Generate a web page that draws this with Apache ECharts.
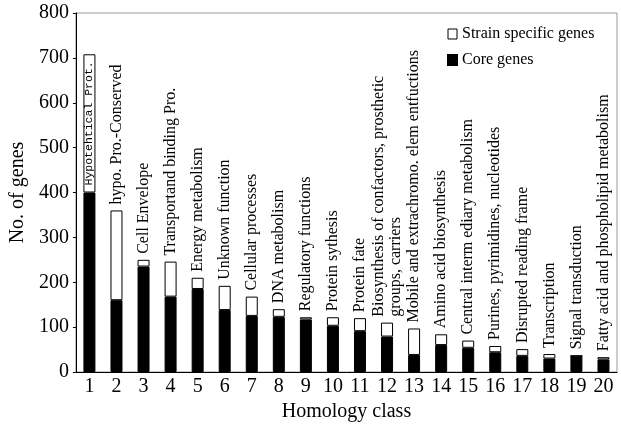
<!DOCTYPE html>
<html>
<head>
<meta charset="utf-8">
<script src="https://cdn.jsdelivr.net/npm/echarts@6/dist/echarts.min.js"></script>
<style>
  html, body { margin: 0; padding: 0; background: #fff; }
  #chart { width: 621px; height: 428px; }
</style>
</head>
<body>
<div id="chart"></div>
<script>
// homology classes 1..20
var classes = ["1","2","3","4","5","6","7","8","9","10","11","12","13","14","15","16","17","18","19","20"];
var coreGenes = [400, 160, 235, 168, 185, 138, 125, 123, 117, 103, 91, 79, 38, 60, 54, 44, 36, 30, 36, 28];
var strainGenes = [308, 200, 15, 78, 25, 54, 43, 17, 5, 19, 29, 31, 59, 24, 16, 14, 15, 10, 0, 5];
var classNames = [
  "Hypotehtical Prot.",
  "hypo. Pro.-Conserved",
  "Cell Envelope",
  "Transportand binding Pro.",
  "Energy metabolism",
  "Unknown function",
  "Cellular processes",
  "DNA metabolism",
  "Regulatory functions",
  "Protein sythesis",
  "Protein fate",
  "Biosynthesis of confactors, prosthetic\ngroups, carriers",
  "Mobile and extrachromo. elem entfuctions",
  "Amino acid biosynthesis",
  "Central interm ediary metabolism",
  "Purines, pyrimidines, nucleotides",
  "Disrupted reading frame",
  "Transcription",
  "Signal transduction",
  "Fatty acid and phospholipid metabolism"
];
var yTicks = [0, 100, 200, 300, 400, 500, 600, 700, 800];

var serif = "Liberation Serif, Times New Roman, serif";
var myChart = echarts.init(document.getElementById("chart"));

// 第一个类别的标签写在白色柱子里面
var strainData = strainGenes.map(function (v, i) {
  if (i === 0) {
    return {
      value: v,
      label: {
        position: "inside",
        rotate: 90,
        align: "center",
        verticalAlign: "middle",
        fontFamily: "Liberation Mono, DejaVu Sans Mono, monospace",
        fontSize: 11.5
      }
    };
  }
  return v;
});

myChart.setOption({
  animation: false,
  textStyle: { fontFamily: serif, color: "#000" },
  grid: {
    left: 74,
    right: 4,
    top: 13,
    bottom: 56,
    show: true,
    borderColor: "#999",
    borderWidth: 1
  },
  legend: {
    orient: "vertical",
    left: 442,
    top: 21,
    itemWidth: 9,
    itemHeight: 10,
    itemGap: 10,
    textStyle: { fontFamily: serif, fontSize: 16, color: "#000" },
    data: [
      { name: "Strain specific genes", icon: "rect", itemStyle: { color: "#fff", borderColor: "#000", borderWidth: 1 } },
      { name: "Core genes", icon: "rect", itemStyle: { color: "#000" } }
    ]
  },
  xAxis: {
    type: "category",
    data: classes,
    name: "Homology class",
    nameLocation: "middle",
    nameGap: 30,
    nameTextStyle: { fontFamily: serif, fontSize: 20, color: "#000" },
    axisLine: { lineStyle: { color: "#000", width: 1 } },
    axisTick: { inside: true, length: 3, lineStyle: { color: "#000" } },
    axisLabel: { fontFamily: serif, fontSize: 20, color: "#000", margin: 5 }
  },
  yAxis: {
    type: "value",
    min: 0,
    max: 800,
    interval: 100,
    name: "No. of genes",
    nameLocation: "middle",
    nameGap: 44,
    nameTextStyle: { fontFamily: serif, fontSize: 20, color: "#000" },
    axisLine: { show: true, lineStyle: { color: "#000", width: 1 } },
    axisTick: { show: true, length: 3, lineStyle: { color: "#000" } },
    axisLabel: {
      fontFamily: serif,
      fontSize: 20,
      color: "#000",
      margin: 7,
      formatter: function (v) { return yTicks.indexOf(v) >= 0 ? String(v) : ""; }
    },
    splitLine: { show: false }
  },
  series: [
    {
      name: "Core genes",
      type: "bar",
      stack: "genes",
      barWidth: 12,
      data: coreGenes,
      itemStyle: { color: "#000", borderColor: "#000", borderWidth: 1 }
    },
    {
      name: "Strain specific genes",
      type: "bar",
      stack: "genes",
      barWidth: 12,
      data: strainData,
      itemStyle: { color: "#fff", borderColor: "#000", borderWidth: 1 },
      label: {
        show: true,
        position: "top",
        rotate: 90,
        align: "left",
        verticalAlign: "middle",
        distance: 6,
        fontFamily: serif,
        fontSize: 16,
        lineHeight: 17,
        color: "#000",
        formatter: function (p) { return classNames[p.dataIndex]; }
      }
    }
  ]
});
</script>
</body>
</html>
